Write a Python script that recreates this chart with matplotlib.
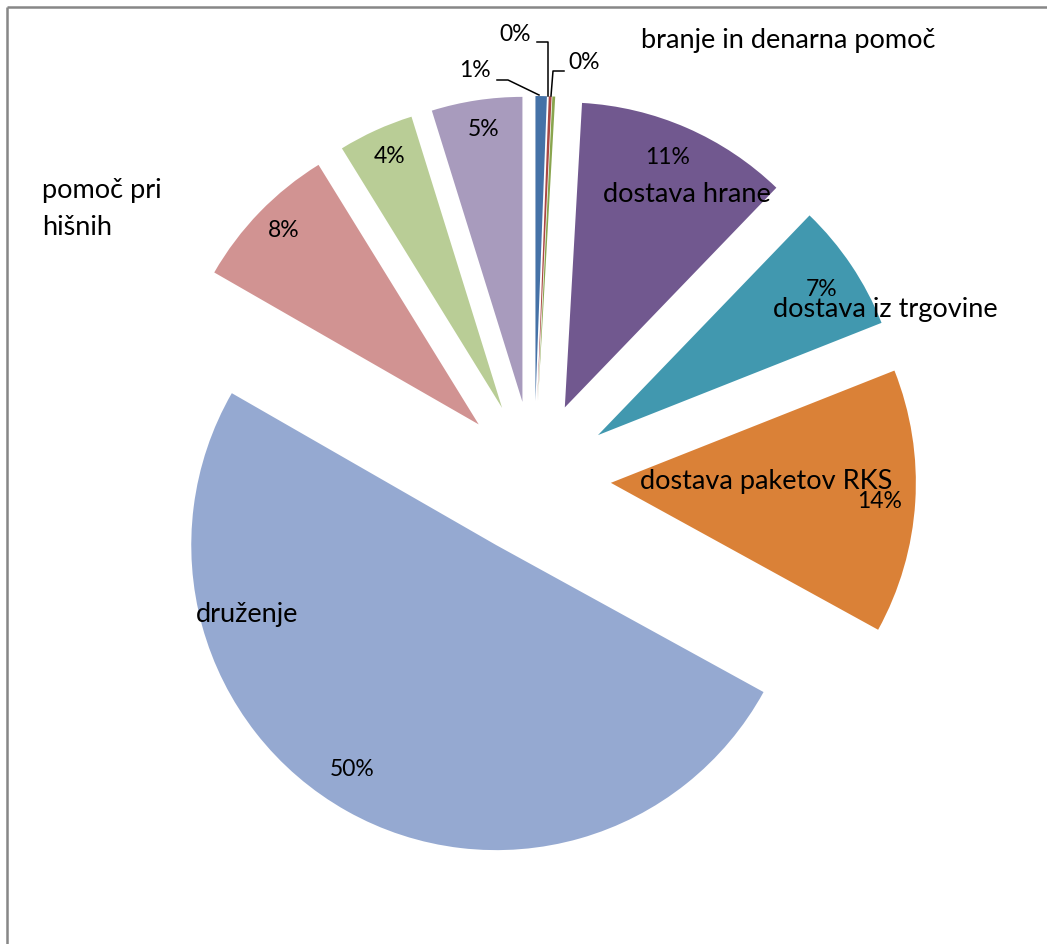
import matplotlib
matplotlib.use("Agg")
import matplotlib.pyplot as plt

# ---- data (percent shares) ----
categories = ["", "", "branje in denarna pomoč", "dostava hrane", "dostava iz trgovine",
              "dostava paketov RKS", "druženje", "pomoč pri\nhišnih", "", ""]
values = [0.6, 0.15, 0.15, 11.3, 6.8, 14.0, 50.3, 7.9, 4.0, 4.8]
colors = ["#4572A7", "#AA4643", "#89A54E", "#71588F", "#4198AF",
          "#DA8137", "#95A9D1", "#D19392", "#B9CD96", "#A89BBD"]

# ---- layout (pixel coordinates, y from top) ----
W, H = 1047, 945
center_px = (534, 479)
radius = 305
explode_px = 77
pct_pos = [(475, 71), (515, 35), (584, 63), (668, 158), (822, 290),
           (880, 502), (352, 770), (284, 231), (390, 157), (484, 130)]
name_pos = {2: (788, 41, "center"), 3: (687, 195, "center"), 4: (885, 310, "center"),
            5: (766, 482, "center"), 6: (247, 615, "center"), 7: (42, 209, "left")}
leaders = [[(497, 81), (508, 81), (539, 96)],
           [(537, 43), (548, 43), (548, 97)],
           [(564, 72), (553, 72), (551, 97)]]

FONT = ["Lato", "DejaVu Sans"]
fig = plt.figure(figsize=(W / 100, H / 100), dpi=100)
ax = fig.add_axes([0, 0, 1, 1])

def fy(y):
    return H - y

ax.pie(values, colors=colors, startangle=90, counterclock=False,
       center=(center_px[0], fy(center_px[1])), radius=radius,
       explode=[explode_px] * len(values),
       wedgeprops=dict(linewidth=0), frame=True)
ax.set_xlim(0, W)
ax.set_ylim(0, H)
ax.set_aspect("equal")
ax.axis("off")

for v, (x, y) in zip(values, pct_pos):
    ax.text(x, fy(y), f"{round(v)}%", ha="center", va="center",
            fontsize=16.5, family=FONT, color="black")

for i, (x, y, ha) in name_pos.items():
    ax.text(x, fy(y), categories[i], ha=ha, va="center", fontsize=19.5,
            family=FONT, color="black", linespacing=1.6)

for pts in leaders:
    ax.plot([p[0] for p in pts], [fy(p[1]) for p in pts], color="black", lw=1.1)

# chart-area border (cropped at right and bottom)
ax.plot([7, 7], [-5, fy(7.5)], color="#878787", lw=1.8, solid_capstyle="butt")
ax.plot([7, W + 5], [fy(7.5), fy(7.5)], color="#878787", lw=1.8, solid_capstyle="butt")

fig.savefig("out.png", dpi=100)
